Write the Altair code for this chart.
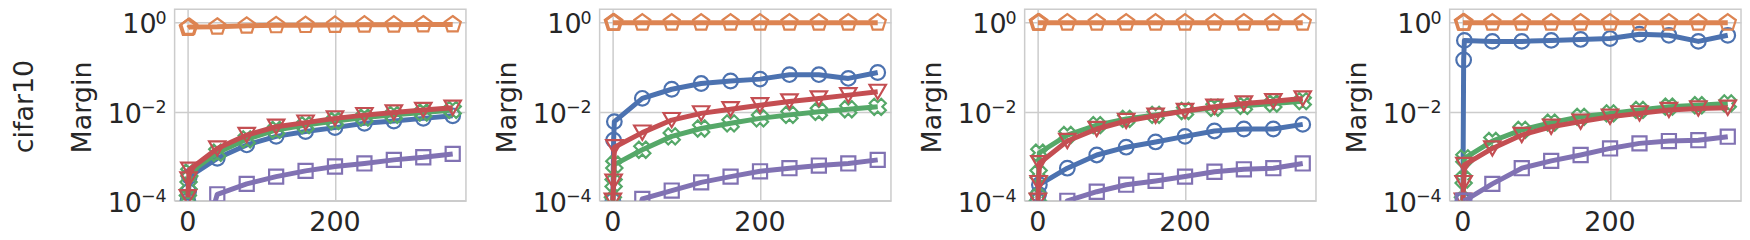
import altair as alt
import pandas as pd

# x positions of the logged points (epochs)
XS = [0, 1, 2, 40, 80, 120, 160, 200, 240, 280, 320, 360]

# panel 1
P1_BLUE = [1.0e-4, 1.6e-4, 3.5e-4, 9e-4, 1.8e-3, 2.8e-3, 3.6e-3, 4.4e-3, 5.5e-3, 6.2e-3, 7.1e-3, 8.1e-3]
P1_ORANGE = [0.76, 0.78, 0.80, 0.81, 0.85, 0.87, 0.88, 0.89, 0.90, 0.90, 0.91, 0.91]
P1_GREEN = [1.1e-4, 2.2e-4, 4.3e-4, 1.2e-3, 2.4e-3, 3.9e-3, 5.0e-3, 6.2e-3, 7.4e-3, 8.5e-3, 9.6e-3, 0.011]
P1_RED = [1.2e-4, 3e-4, 5e-4, 1.5e-3, 3e-3, 4.6e-3, 5.7e-3, 7.1e-3, 8.4e-3, 9.6e-3, 0.011, 0.0123]
P1_PURPLE = [1e-6, 1e-6, 1e-6, 1.4e-4, 2.4e-4, 3.5e-4, 4.7e-4, 5.9e-4, 6.9e-4, 8.3e-4, 9.5e-4, 1.13e-3]

# panel 2
P2_BLUE = [1.0e-4, 2.3e-3, 6e-3, 0.02, 0.032, 0.043, 0.049, 0.054, 0.068, 0.068, 0.056, 0.076]
P2_ORANGE = [1.0, 1.0, 1.0, 1.0, 1.0, 1.0, 1.0, 1.0, 1.0, 1.0, 1.0, 1.0]
P2_GREEN = [1.0e-4, 2.5e-4, 6.5e-4, 1.4e-3, 2.8e-3, 4.2e-3, 5.5e-3, 7.1e-3, 8.5e-3, 0.010, 0.0114, 0.0129]
P2_RED = [1.0e-4, 2.7e-4, 1.6e-3, 3.4e-3, 6.5e-3, 9.2e-3, 0.0114, 0.014, 0.017, 0.0199, 0.0236, 0.028]
P2_PURPLE = [1e-6, 1e-6, 1e-6, 1.1e-4, 1.7e-4, 2.6e-4, 3.5e-4, 4.6e-4, 5.4e-4, 6.2e-4, 6.9e-4, 8.3e-4]

# panel 3
P3_BLUE = [1.0e-4, 1.4e-4, 2.3e-4, 5.4e-4, 1.07e-3, 1.6e-3, 2.1e-3, 2.8e-3, 3.7e-3, 4.1e-3, 4.1e-3, 5.2e-3]
P3_ORANGE = [1.0, 1.0, 1.0, 1.0, 1.0, 1.0, 1.0, 1.0, 1.0, 1.0, 1.0, 1.0]
P3_GREEN = [1.2e-4, 4e-4, 1.2e-3, 3e-3, 5e-3, 6.9e-3, 8.5e-3, 0.0104, 0.0123, 0.0136, 0.0153, 0.0173]
P3_RED = [1.0e-4, 2.5e-4, 7e-4, 2.2e-3, 4.1e-3, 6.2e-3, 8.1e-3, 0.0104, 0.013, 0.0153, 0.0173, 0.0199]
P3_PURPLE = [1e-6, 1e-6, 1e-6, 1.0e-4, 1.6e-4, 2.3e-4, 2.8e-4, 3.5e-4, 4.5e-4, 5.1e-4, 5.4e-4, 6.9e-4]

# panel 4
P4_BLUE = [1.0e-4, 0.145, 0.40, 0.38, 0.38, 0.40, 0.42, 0.44, 0.55, 0.52, 0.38, 0.52]
P4_ORANGE = [1.0, 1.0, 1.0, 1.0, 1.0, 1.0, 1.0, 1.0, 1.0, 1.0, 1.0, 1.0]
P4_GREEN = [1.0e-4, 3e-4, 9e-4, 2.2e-3, 3.9e-3, 5.7e-3, 7.7e-3, 9.2e-3, 0.011, 0.013, 0.014, 0.0154]
P4_RED = [1.0e-4, 2.5e-4, 6.4e-4, 1.5e-3, 3e-3, 4.6e-3, 6e-3, 7.7e-3, 9.2e-3, 0.011, 0.0118, 0.0123]
P4_PURPLE = [1.0e-4, 1.0e-4, 1.0e-4, 2.4e-4, 5.4e-4, 7.9e-4, 1.07e-3, 1.5e-3, 1.95e-3, 2.2e-3, 2.3e-3, 2.75e-3]

PANELS = [
    {"blue": P1_BLUE, "orange": P1_ORANGE, "green": P1_GREEN, "red": P1_RED, "purple": P1_PURPLE},
    {"blue": P2_BLUE, "orange": P2_ORANGE, "green": P2_GREEN, "red": P2_RED, "purple": P2_PURPLE},
    {"blue": P3_BLUE, "orange": P3_ORANGE, "green": P3_GREEN, "red": P3_RED, "purple": P3_PURPLE},
    {"blue": P4_BLUE, "orange": P4_ORANGE, "green": P4_GREEN, "red": P4_RED, "purple": P4_PURPLE},
]

ROW_LABEL = "cifar10"
Y_TITLE = "Margin"
X_TICKS = [0, 200]
X_TICK_LABELS = ["0", "200"]
Y_TICKS = [1e-4, 1e-2, 1.0]
Y_TICK_BASE = "10"
Y_TICK_EXP = ["−4", "−2", "0"]

SERIES = ["blue", "orange", "green", "red", "purple"]
COLORS = {"blue": "#4C72B0", "orange": "#DD8452", "green": "#55A868",
          "red": "#C44E52", "purple": "#8172B3"}
PENTAGON = "M0,-1L0.951,-0.309L0.588,0.809L-0.588,0.809L-0.951,-0.309Z"
SHAPES = {"blue": "circle", "orange": PENTAGON, "green": "cross",
          "red": "triangle-down", "purple": "square"}
SIZES = {"blue": 215, "orange": 290, "green": 270, "red": 270, "purple": 200}
ANGLES = {"blue": 0, "orange": 0, "green": 45, "red": 0, "purple": 0}

FONT = "DejaVu Sans"
TXT = "#262626"
FS_TICK = 27
FS_EXP = 17.5
FS_TITLE = 27
# DejaVu Sans advance widths (em) used to place the superscript right after "10"
CHAR_EM = {"−": 0.838, "0": 0.636, "2": 0.636, "4": 0.636}

xscale = alt.Scale(domain=[-18, 378], nice=False, zero=False)
yscale = alt.Scale(type="log", domain=[1e-4, 2.0], nice=False)
x_enc = alt.X("x:Q", scale=xscale,
              axis=alt.Axis(values=X_TICKS, title=None, labels=False))
y_enc = alt.Y("y:Q", scale=yscale,
              axis=alt.Axis(values=Y_TICKS, title=None, labels=False))


def text_mark(**kw):
    base = dict(font=FONT, color=TXT)
    base.update(kw)
    return base


def make_panel(data, first):
    layers = []
    for s in SERIES:
        df = pd.DataFrame({"x": XS, "y": data[s]})
        base = alt.Chart(df)
        line = base.mark_line(color=COLORS[s], strokeWidth=5, clip=True,
                              strokeJoin="round").encode(x=x_enc, y=y_enc)
        pts = base.mark_point(shape=SHAPES[s], size=SIZES[s], filled=False,
                              stroke=COLORS[s], strokeWidth=2.2, opacity=1, clip=True,
                              angle=ANGLES[s]).encode(x=x_enc, y=y_enc)
        layers += [line, pts]

    # x tick labels
    xl = alt.Chart(pd.DataFrame({"x": X_TICKS, "t": X_TICK_LABELS})).mark_text(
        **text_mark(fontSize=FS_TICK, align="center", baseline="alphabetic")
    ).encode(x=x_enc, y=alt.value(222), text="t:N")
    layers.append(xl)

    # y tick labels: "10" + superscript exponent
    for val, ex in zip(Y_TICKS, Y_TICK_EXP):
        expw = sum(CHAR_EM[c] for c in ex) * FS_EXP
        d = pd.DataFrame({"y": [val], "b": [Y_TICK_BASE], "e": [ex]})
        e_txt = alt.Chart(d).mark_text(
            **text_mark(fontSize=FS_EXP, align="right", baseline="alphabetic", dy=1)
        ).encode(x=alt.value(-8), y=y_enc, text="e:N")
        b_txt = alt.Chart(d).mark_text(
            **text_mark(fontSize=FS_TICK, align="right", baseline="alphabetic", dy=10.8)
        ).encode(x=alt.value(-8 - expw + 1), y=y_enc, text="b:N")
        layers += [b_txt, e_txt]

    # y title
    yt = alt.Chart(pd.DataFrame({"t": [Y_TITLE]})).mark_text(
        **text_mark(fontSize=FS_TITLE, angle=270, align="center", baseline="alphabetic")
    ).encode(x=alt.value(-83.4), y=alt.value(98.5), text="t:N")
    layers.append(yt)

    if first:
        lab = alt.Chart(pd.DataFrame({"t": [ROW_LABEL]})).mark_text(
            **text_mark(fontSize=FS_TITLE, angle=270, align="center", baseline="alphabetic")
        ).encode(x=alt.value(-142.3), y=alt.value(97.5), text="t:N")
        spacer = alt.Chart(pd.DataFrame({"t": [0]})).mark_rule(
            strokeWidth=1, opacity=0, color="white"
        ).encode(x=alt.value(-165.5), y=alt.value(0), y2=alt.value(1))
        layers += [lab, spacer]
    return alt.layer(*layers).properties(width=292, height=192)


chart = alt.hconcat(*[make_panel(d, i == 0) for i, d in enumerate(PANELS)],
                    spacing=134, bounds="flush").properties(padding=0).configure_view(
    stroke="#cccccc", strokeWidth=1.5
).configure_axis(
    grid=True, gridColor="#cccccc", gridWidth=1.5, domain=False, ticks=False,
    labels=False, title=None
)

chart.save("out.html", embed_options={"renderer": "svg", "actions": False})
